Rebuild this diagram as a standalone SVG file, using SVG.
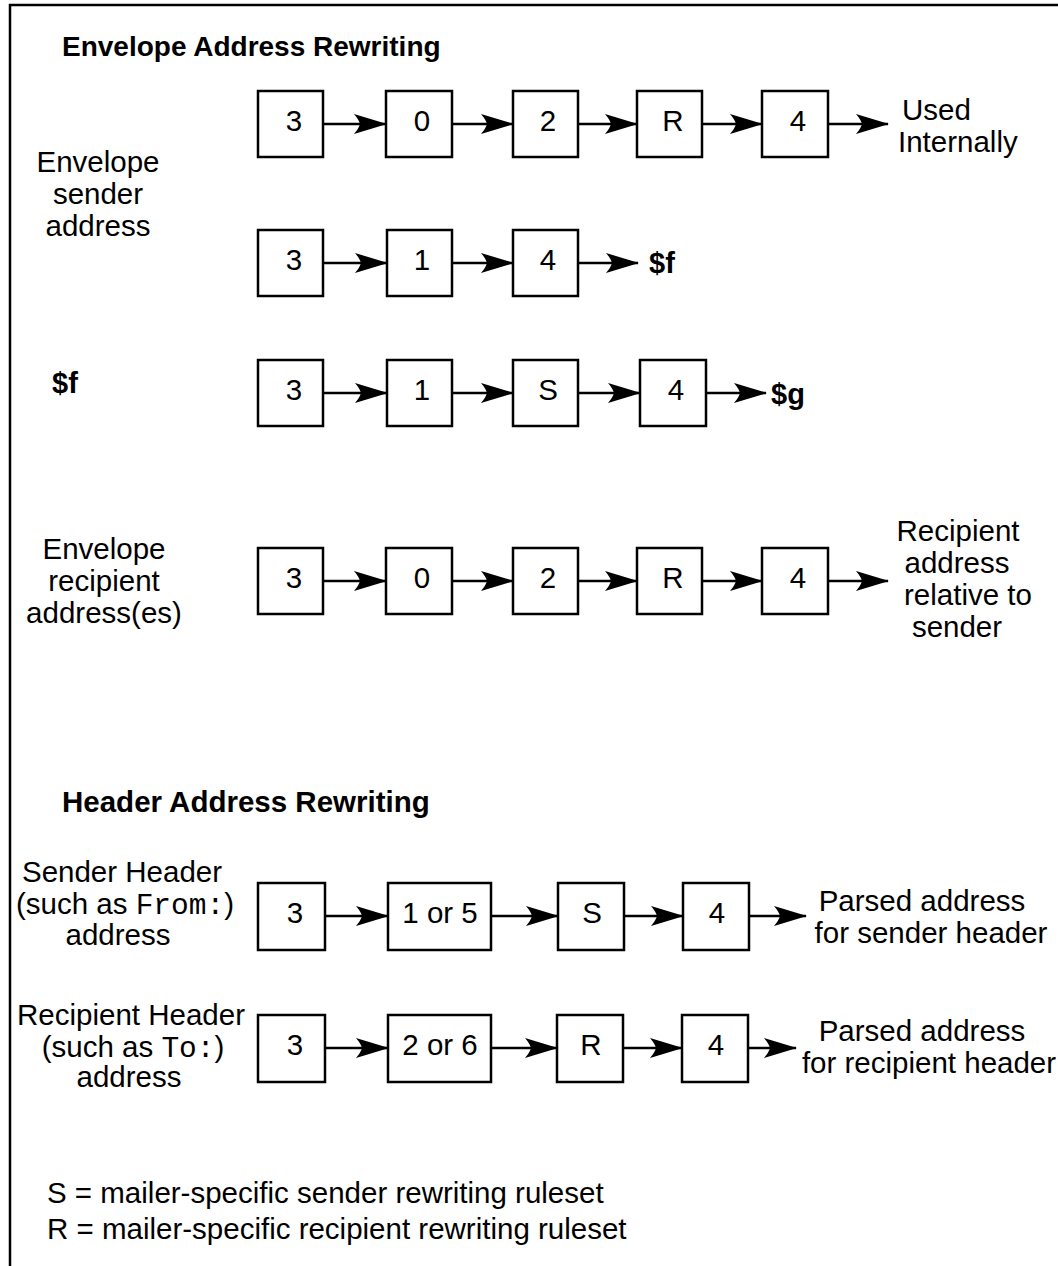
<svg xmlns="http://www.w3.org/2000/svg" width="1058" height="1266" viewBox="0 0 1058 1266">
  <style>
    .bg { fill: #ffffff; }
    .frame { fill: none; stroke: #000; stroke-width: 2.5; }
    .box { fill: #fff; stroke: #000; stroke-width: 2.5; }
    .wire { fill: none; stroke: #000; stroke-width: 2.5; }
    .t { font-family: "Liberation Sans", Arial, Helvetica, sans-serif; font-size: 29.5px; fill: #000; }
    .c { text-anchor: middle; }
    .h { font-family: "Liberation Sans", Arial, Helvetica, sans-serif; font-size: 28px; font-weight: bold; fill: #000; }
    .v { font-family: "Liberation Sans", Arial, Helvetica, sans-serif; font-size: 29px; font-weight: bold; fill: #000; }
    .m { font-family: "Liberation Mono", "Courier New", monospace; font-size: 29.5px; }
  </style>
  <defs>
    <marker id="arrow" markerUnits="userSpaceOnUse" markerWidth="36" markerHeight="24" viewBox="-34 -12 36 24" refX="0" refY="0" orient="auto">
      <path d="M1,0 L-32,-10 Q-27,-4 -26,0 Q-27,4 -32,10 Z" fill="#000"/>
    </marker>
  </defs>

  <rect class="bg" x="0" y="0" width="1058" height="1266"/>
  <path class="frame" d="M10,1266 L10,5 L1058,5"/>

  <!-- section titles -->
  <text class="h" x="62" y="56">Envelope Address Rewriting</text>
  <text class="h" x="62" y="812" style="font-size:29.5px">Header Address Rewriting</text>

  <!-- input / output labels -->
  <g id="lbl-env-sender" class="t c">
    <text x="98" y="172">Envelope</text>
    <text x="98" y="204">sender</text>
    <text x="98" y="236">address</text>
  </g>
  <text id="lbl-used" class="t" x="902" y="120">Used</text>
  <text class="t" x="898" y="152">Internally</text>
  <text id="lbl-f-out" class="v" x="649" y="273">$f</text>
  <text id="lbl-f-in" class="v" x="52" y="393">$f</text>
  <text id="lbl-g-out" class="v" x="771" y="404">$g</text>
  <g id="lbl-env-rcpt" class="t c">
    <text x="104" y="559">Envelope</text>
    <text x="104" y="591">recipient</text>
    <text x="104" y="623">address(es)</text>
  </g>
  <g id="lbl-rcpt-rel" class="t c">
    <text x="958" y="541">Recipient</text>
    <text x="957" y="573">address</text>
    <text x="968" y="605">relative to</text>
    <text x="957" y="637">sender</text>
  </g>
  <g id="lbl-hdr-sender" class="t c">
    <text x="122" y="882">Sender Header</text>
    <text x="125" y="914">(such as <tspan class="m">From:</tspan>)</text>
    <text x="118" y="945">address</text>
  </g>
  <g id="lbl-hdr-rcpt" class="t c">
    <text x="131" y="1025">Recipient Header</text>
    <text x="133" y="1057">(such as <tspan class="m">To:</tspan>)</text>
    <text x="129" y="1087">address</text>
  </g>
  <g id="lbl-parsed-sender" class="t c">
    <text x="922" y="911">Parsed address</text>
    <text x="931" y="943">for sender header</text>
  </g>
  <g id="lbl-parsed-rcpt" class="t c">
    <text x="922" y="1041">Parsed address</text>
    <text x="929" y="1073">for recipient header</text>
  </g>

  <!-- connectors -->
  <g id="connectors" class="wire" marker-end="url(#arrow)">
    <!-- envelope sender, first pass -->
    <line x1="323" y1="124" x2="386" y2="124"/>
    <line x1="452" y1="124" x2="513" y2="124"/>
    <line x1="578" y1="124" x2="637" y2="124"/>
    <line x1="702" y1="124" x2="762" y2="124"/>
    <line x1="828" y1="124" x2="888" y2="124"/>
    <!-- envelope sender, $f -->
    <line x1="323" y1="263" x2="387" y2="263"/>
    <line x1="452" y1="263" x2="513" y2="263"/>
    <line x1="578" y1="263" x2="638" y2="263"/>
    <!-- $f to $g -->
    <line x1="323" y1="393" x2="387" y2="393"/>
    <line x1="452" y1="393" x2="513" y2="393"/>
    <line x1="578" y1="393" x2="640" y2="393"/>
    <line x1="706" y1="393" x2="766" y2="393"/>
    <!-- envelope recipient -->
    <line x1="323" y1="581" x2="386" y2="581"/>
    <line x1="452" y1="581" x2="513" y2="581"/>
    <line x1="578" y1="581" x2="637" y2="581"/>
    <line x1="702" y1="581" x2="762" y2="581"/>
    <line x1="828" y1="581" x2="888" y2="581"/>
    <!-- sender header -->
    <line x1="325" y1="916" x2="388" y2="916"/>
    <line x1="491" y1="916" x2="558" y2="916"/>
    <line x1="624" y1="916" x2="683" y2="916"/>
    <line x1="749" y1="916" x2="806" y2="916"/>
    <!-- recipient header -->
    <line x1="325" y1="1048" x2="388" y2="1048"/>
    <line x1="491" y1="1048" x2="557" y2="1048"/>
    <line x1="623" y1="1048" x2="682" y2="1048"/>
    <line x1="748" y1="1048" x2="796" y2="1048"/>
  </g>

  <!-- envelope sender, first pass -->
  <g id="es1-3"><rect class="box" x="258" y="91" width="65" height="66"/><text class="t c" x="294" y="131">3</text></g>
  <g id="es1-0"><rect class="box" x="386" y="91" width="66" height="66"/><text class="t c" x="422" y="131">0</text></g>
  <g id="es1-2"><rect class="box" x="513" y="91" width="65" height="66"/><text class="t c" x="548" y="131">2</text></g>
  <g id="es1-R"><rect class="box" x="637" y="91" width="65" height="66"/><text class="t c" x="673" y="131">R</text></g>
  <g id="es1-4"><rect class="box" x="762" y="91" width="66" height="66"/><text class="t c" x="798" y="131">4</text></g>

  <!-- envelope sender to $f -->
  <g id="es2-3"><rect class="box" x="258" y="230" width="65" height="66"/><text class="t c" x="294" y="270">3</text></g>
  <g id="es2-1"><rect class="box" x="387" y="230" width="65" height="66"/><text class="t c" x="422" y="270">1</text></g>
  <g id="es2-4"><rect class="box" x="513" y="230" width="65" height="66"/><text class="t c" x="548" y="270">4</text></g>

  <!-- $f to $g -->
  <g id="fg-3"><rect class="box" x="258" y="360" width="65" height="66"/><text class="t c" x="294" y="400">3</text></g>
  <g id="fg-1"><rect class="box" x="387" y="360" width="65" height="66"/><text class="t c" x="422" y="400">1</text></g>
  <g id="fg-S"><rect class="box" x="513" y="360" width="65" height="66"/><text class="t c" x="548" y="400">S</text></g>
  <g id="fg-4"><rect class="box" x="640" y="360" width="66" height="66"/><text class="t c" x="676" y="400">4</text></g>

  <!-- envelope recipient -->
  <g id="er-3"><rect class="box" x="258" y="548" width="65" height="66"/><text class="t c" x="294" y="588">3</text></g>
  <g id="er-0"><rect class="box" x="386" y="548" width="66" height="66"/><text class="t c" x="422" y="588">0</text></g>
  <g id="er-2"><rect class="box" x="513" y="548" width="65" height="66"/><text class="t c" x="548" y="588">2</text></g>
  <g id="er-R"><rect class="box" x="637" y="548" width="65" height="66"/><text class="t c" x="673" y="588">R</text></g>
  <g id="er-4"><rect class="box" x="762" y="548" width="66" height="66"/><text class="t c" x="798" y="588">4</text></g>

  <!-- sender header -->
  <g id="hs-3"><rect class="box" x="258" y="883" width="67" height="67"/><text class="t c" x="295" y="923">3</text></g>
  <g id="hs-15"><rect class="box" x="388" y="883" width="103" height="67"/><text class="t c" x="440" y="923">1 or 5</text></g>
  <g id="hs-S"><rect class="box" x="558" y="883" width="66" height="67"/><text class="t c" x="592" y="923">S</text></g>
  <g id="hs-4"><rect class="box" x="683" y="883" width="66" height="67"/><text class="t c" x="717" y="923">4</text></g>

  <!-- recipient header -->
  <g id="hr-3"><rect class="box" x="258" y="1015" width="67" height="67"/><text class="t c" x="295" y="1055">3</text></g>
  <g id="hr-26"><rect class="box" x="388" y="1015" width="103" height="67"/><text class="t c" x="440" y="1055">2 or 6</text></g>
  <g id="hr-R"><rect class="box" x="557" y="1015" width="66" height="67"/><text class="t c" x="591" y="1055">R</text></g>
  <g id="hr-4"><rect class="box" x="682" y="1015" width="66" height="67"/><text class="t c" x="716" y="1055">4</text></g>

  <!-- legend -->
  <g id="legend" class="t">
    <text x="47" y="1203">S = mailer-specific sender rewriting ruleset</text>
    <text x="47" y="1239">R = mailer-specific recipient rewriting ruleset</text>
  </g>
</svg>
